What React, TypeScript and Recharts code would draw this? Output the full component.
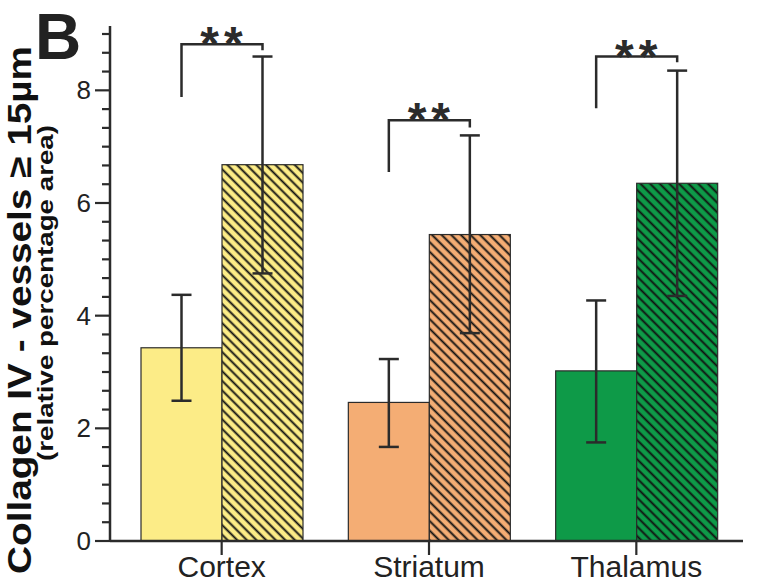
import React from 'react';
import { BarChart, Bar, XAxis, YAxis, ErrorBar } from 'recharts';

const categories = ['Cortex', 'Striatum', 'Thalamus'];
const controlMean = [3.43, 2.46, 3.02];
const controlLow = [2.49, 1.67, 1.75];
const controlHigh = [4.37, 3.23, 4.27];
const treatedMean = [6.68, 5.44, 6.35];
const treatedLow = [4.75, 3.69, 4.35];
const treatedHigh = [8.6, 7.2, 8.35];
const bracketLeft = [7.88, 6.55, 7.68];
const bracketTop = [8.82, 7.47, 8.6];
const bracketRight = [8.71, 7.34, 8.5];
const sigLabels = ['**', '**', '**'];
const barColors = ['#FCEC87', '#F4AD74', '#0E9A48'];
const yTickLabels = [0, 2, 4, 6, 8];
const yMax = 9;
const yMinorPerUnit = 3;

const FONT = '"Liberation Sans", Arial, sans-serif';
const INK = '#2b2b2b';

const data = categories.map((name, i) => ({
  name,
  idx: i,
  control: controlMean[i],
  controlErr: [controlMean[i] - controlLow[i], controlHigh[i] - controlMean[i]],
  treated: treatedMean[i],
  treatedErr: [treatedMean[i] - treatedLow[i], treatedHigh[i] - treatedMean[i]],
}));

const yTicks = Array.from({ length: yMax * yMinorPerUnit + 1 }, (_, i) => i / yMinorPerUnit);

const YTick = (props: any) => {
  const { x, y, payload } = props;
  const v = payload.value;
  const r = Math.round(v);
  const major = Math.abs(v - r) < 1e-6 && yTickLabels.includes(r);
  return (
    <g>
      <line x1={x - (major ? 15 : 8)} x2={x} y1={y} y2={y} stroke={INK} strokeWidth={2.2} />
      {major && (
        <text x={x - 19} y={y} dy={9} textAnchor="end" fontSize={26} fill="#222" fontFamily={FONT}>
          {r}
        </text>
      )}
    </g>
  );
};

const XTick = (props: any) => {
  const { x, y, payload } = props;
  return (
    <g>
      <line x1={x} x2={x} y1={y} y2={y + 14} stroke={INK} strokeWidth={2.2} />
      <text x={x} y={y + 36} textAnchor="middle" fontSize={30} fill="#222" fontFamily={FONT}>
        {payload.value}
      </text>
    </g>
  );
};

const SolidShape = (props: any) => {
  const { x, y, width, height, payload } = props;
  const i = payload.idx;
  return <rect x={x} y={y} width={width} height={height} fill={barColors[i]} stroke={INK} strokeWidth={1.2} />;
};

const HatchShape = (props: any) => {
  const { x, y, width, height, payload } = props;
  const i = payload.idx;
  const id = `hatch-${i}`;
  const base = y + height;
  const unit = height / treatedMean[i];
  const py = (v: number) => base - v * unit;
  const lx = x - width / 2;
  const rx = x + width / 2;
  const s = 6.8;
  return (
    <g>
      <defs>
        <pattern id={id} patternUnits="userSpaceOnUse" width={s} height={s} patternTransform="rotate(-45)">
          <rect x={0} y={0} width={s} height={s} fill={barColors[i]} />
          <line x1={s / 2} y1={-1} x2={s / 2} y2={s + 1} stroke="#111" strokeWidth={1.9} />
        </pattern>
      </defs>
      <rect x={x} y={y} width={width} height={height} fill={`url(#${id})`} stroke={INK} strokeWidth={1.2} />
      <path
        d={`M${lx},${py(bracketLeft[i])}V${py(bracketTop[i])}H${rx}V${py(bracketRight[i])}`}
        fill="none"
        stroke={INK}
        strokeWidth={2.5}
      />
      <text
        x={(lx + rx) / 2 + 2}
        y={py(bracketTop[i]) + 16}
        textAnchor="middle"
        fontSize={48}
        fontWeight="bold"
        letterSpacing={5}
        fill={INK}
        fontFamily={FONT}
      >
        {sigLabels[i]}
      </text>
    </g>
  );
};

export default function App() {
  return (
    <div style={{ position: 'absolute', left: 0, top: 0, width: 757, height: 584, background: '#fff' }}>
      <svg width={757} height={584} style={{ position: 'absolute', left: 0, top: 0 }}>
        <text x={35} y={59} fontSize={64} fontWeight="bold" fill="#222" fontFamily={FONT}>
          B
        </text>
        <text
          transform="rotate(-90)"
          x={-310}
          y={31}
          textAnchor="middle"
          fontSize={33}
          fontWeight="bold"
          fill="#111"
          fontFamily={FONT}
          textLength={528}
          lengthAdjust="spacingAndGlyphs"
        >
          Collagen IV - vessels ≥ 15µm
        </text>
        <text
          transform="rotate(-90)"
          x={-293}
          y={53}
          textAnchor="middle"
          fontSize={22}
          fontWeight="bold"
          fill="#111"
          fontFamily={FONT}
          textLength={336}
          lengthAdjust="spacingAndGlyphs"
        >
          (relative percentage area)
        </text>
      </svg>
      <div style={{ position: 'absolute', left: 0, top: 0 }}>
        <BarChart
          width={757}
          height={584}
          data={data}
          margin={{ top: 26, right: 14, left: 50, bottom: 0 }}
          barCategoryGap={23}
          barGap={0}
        >
          <XAxis
            dataKey="name"
            height={43}
            padding={{ left: 8, right: 3 }}
            axisLine={{ stroke: INK, strokeWidth: 2.5 }}
            tickLine={false}
            tickSize={0}
            tickMargin={0}
            tick={<XTick />}
            interval={0}
          />
          <YAxis
            type="number"
            width={60}
            domain={[0, yMax]}
            ticks={yTicks}
            interval={0}
            padding={{ top: 8 }}
            axisLine={{ stroke: INK, strokeWidth: 2.5 }}
            tickLine={false}
            tickSize={0}
            tickMargin={0}
            tick={<YTick />}
          />
          <Bar dataKey="control" isAnimationActive={false} shape={<SolidShape />}>
            <ErrorBar dataKey="controlErr" width={10} stroke={INK} strokeWidth={2.5} />
          </Bar>
          <Bar dataKey="treated" isAnimationActive={false} shape={<HatchShape />}>
            <ErrorBar dataKey="treatedErr" width={10} stroke={INK} strokeWidth={2.5} />
          </Bar>
        </BarChart>
      </div>
    </div>
  );
}
